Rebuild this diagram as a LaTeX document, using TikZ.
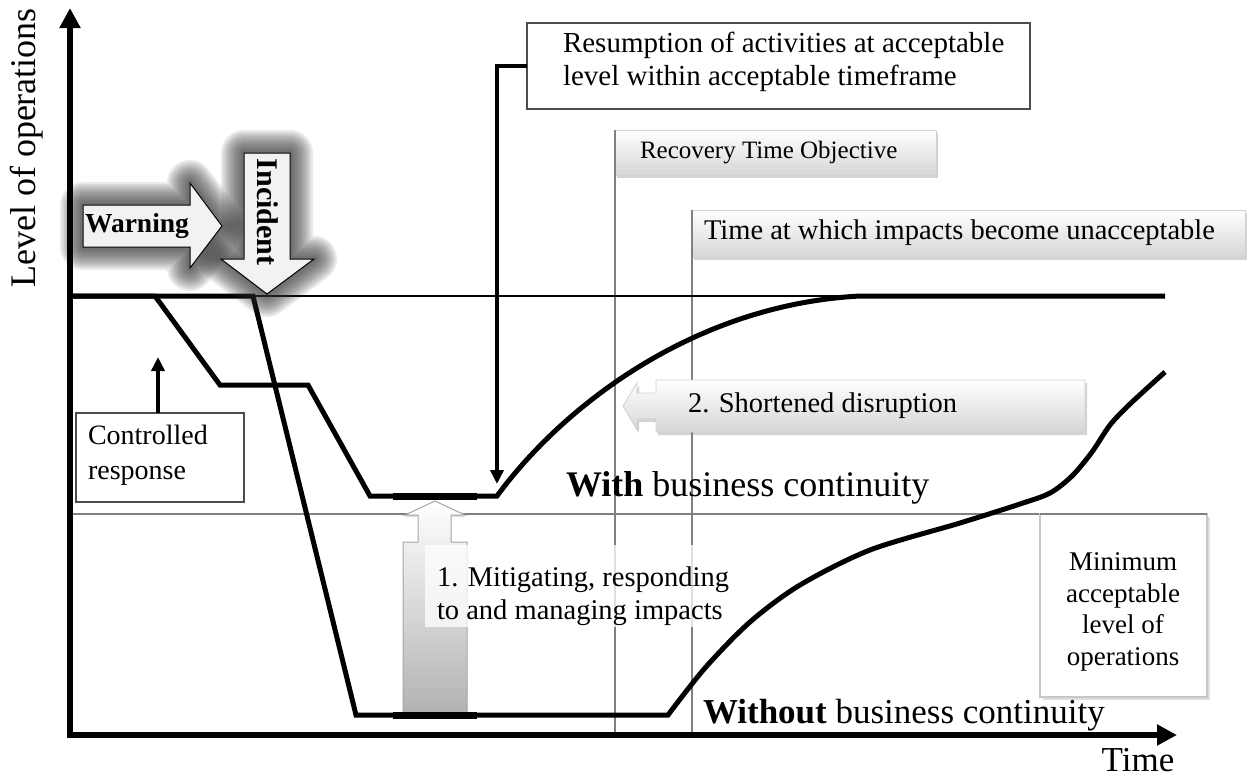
\documentclass[tikz,border=0pt]{standalone}
\usepackage{fontspec}
\setmainfont{Liberation Serif}
\usetikzlibrary{arrows.meta,shadows}
\begin{document}
\begin{tikzpicture}[x=1pt,y=-1pt,
  every node/.style={inner sep=0pt,outer sep=0pt},
  txt/.style={font=\fontsize{28.5}{33}\selectfont, align=left},
  bigtxt/.style={font=\fontsize{36}{40}\selectfont},
  axislbl/.style={font=\fontsize{35}{40}\selectfont},
  axisline/.style={line width=6pt, -{Triangle[length=20pt,width=20pt]}},
  curveline/.style={line width=5pt, line join=miter},
  guide/.style={draw=gray, line width=2.5pt},
  plainbox/.style={draw=black!70, line width=1.5pt, fill=white},
  glossbox/.style={top color=white, bottom color=black!16, draw=black!18, line width=0.8pt,
    drop shadow={shadow xshift=2pt, shadow yshift=-3pt, opacity=0.35}},
  callout/.style={line width=4pt, -{Triangle[length=14pt,width=13pt]}},
  glow/.style={draw=black!80, line join=round, opacity=0.1},
  bigarrow/.style={fill=black!5, draw=black, line width=1pt},
]
\useasboundingbox (0,0) rectangle (1254,780);

% axes reference points
\coordinate (O) at (70,735);
\coordinate (ytip) at (70,8);
\coordinate (xtip) at (1177,735);

% guide line: minimum acceptable level
\draw[guide] (70,514) -- (1207,514);

% boxes with vertical guide lines
\node[glossbox, minimum width=321pt, minimum height=45pt, anchor=north west] (rto) at (615,130) {};
\draw[guide] (rto.north west) -- (rto.north west |- O);
\node[anchor=west, font=\fontsize{25}{30}\selectfont] (rtotext) at (640,153) {Recovery Time Objective};

\node[glossbox, minimum width=553pt, minimum height=47pt, anchor=north west] (taw) at (692,210) {};
\draw[guide] (taw.north west) -- (taw.north west |- O);
\node[txt, anchor=west] (tawtext) at (704,233) {Time at which impacts become unacceptable};

% minimum acceptable level box
\node[draw=black!22, line width=2pt, fill=white,
  drop shadow={shadow xshift=3pt, shadow yshift=-3pt, opacity=0.25},
  minimum width=167pt, minimum height=183pt, anchor=north west] (minbox) at (1040,514) {};
\draw[guide] (minbox.north west) -- (minbox.north east);
\node[txt, align=center, font=\fontsize{27}{31.7}\selectfont] (mintext) at (1123,612) {Minimum\\acceptable\\level of\\operations};

% mitigating arrow
\def\mitpath{(403,712) -- (403,542) -- (418,542) -- (418,515) -- (405,515) -- (435,501) -- (465,515) -- (451,515) -- (451,542) -- (467,542) -- (467,712) -- cycle}
\path[top color=white, bottom color=black!30, draw=black!35, line width=1pt,
  drop shadow={shadow xshift=0pt, shadow yshift=-2pt, opacity=0.25}] \mitpath;
\node[fill=white, fill opacity=0.75, minimum width=270pt, minimum height=82pt, anchor=north west] (mitbg) at (425,545) {};
\node[txt, anchor=west] (mittext) at (437,596) {1. Mitigating, responding\\to and managing impacts};

% shortened disruption arrow
\def\shortpath{(1085,380) -- (656,380) -- (656,393) -- (637,393) -- (637,383) -- (623,406) -- (637,430) -- (637,419) -- (656,419) -- (656,432) -- (1085,432) -- cycle}
\path[glossbox] \shortpath;
\node[txt, anchor=west] (shorttext) at (688,406) {2. Shortened disruption};

% resumption box and callout
\node[plainbox, minimum width=503pt, minimum height=86pt, anchor=north west] (res) at (527,23) {};
\node[txt, anchor=west, font=\fontsize{29}{33.5}\selectfont] (restext) at (563,62) {Resumption of activities at acceptable\\level within acceptable timeframe};
\coordinate (restip) at (497,484);
\draw[callout] (res.west) -| (restip);

% controlled response box and callout
\node[plainbox, line width=1.2pt, minimum width=168pt, minimum height=89pt, anchor=north west] (crbox) at (76,413) {};
\node[txt, anchor=west, font=\fontsize{28}{35}\selectfont] (crtext) at (88,455) {Controlled\\response};
\coordinate (crtip) at (158,357);
\draw[callout] (crtip |- crbox.north) -- (crtip);

% curves
\draw[line width=1.5pt] (72,296) -- (1165,296);
\draw[curveline] (72,296) -- (155,296) -- (220,385) -- (308,385) -- (370,496) -- (497,496)
  .. controls (560,410) and (690,305) .. (860,296) -- (1165,296);
\draw[curveline] (72,296) -- (253,296) -- (356,715) -- (668,715)
  -- plot[smooth, tension=0.5] coordinates {(668,715) (705,668) (750,622) (800,585) (870,550) (960,523) (1020,504) (1050,493) (1072,476) (1092,452) (1110,425) (1130,404) (1165,372)};
% heavier segments where the mitigating arrow meets the curves
\draw[line width=7pt] (393,496) -- (477,496);
\draw[line width=7pt] (393,715) -- (477,715);

% warning and incident arrows with glow
\def\warnpath{(83,205) -- (190,205) -- (190,183) -- (222,226) -- (190,268) -- (190,247) -- (83,247) -- cycle}
\def\incpath{(244,153) -- (290,153) -- (290,259) -- (314,259) -- (267,294) -- (221,259) -- (244,259) -- cycle}
\foreach \w in {46,42,38,34,30,26,22,18,14,10,6} {
  \draw[glow, line width=\w pt] \warnpath;
  \draw[glow, line width=\w pt] \incpath;
}
\path[bigarrow] \warnpath;
\path[bigarrow] \incpath;
\node[font=\bfseries\fontsize{27.5}{30}\selectfont] (warn) at (137,226) {Warning};
\node[font=\bfseries\fontsize{30}{32}\selectfont, rotate=-90] (inc) at (268,212) {Incident};

% texts
\node[bigtxt, anchor=base west] (with) at (566,496) {\textbf{With} business continuity};
\node[bigtxt, anchor=base west, font=\fontsize{35}{40}\selectfont] (without) at (703,723) {\textbf{Without} business continuity};
\node[axislbl, anchor=base] (time) at (1138,771) {Time};
\node[axislbl, font=\fontsize{36}{40}\selectfont, rotate=90] (level) at (27,148) {Level of operations};

% axes
\draw[axisline] (70,738) -- (ytip);
\draw[axisline] (67,735) -- (xtip);
\end{tikzpicture}
\end{document}
